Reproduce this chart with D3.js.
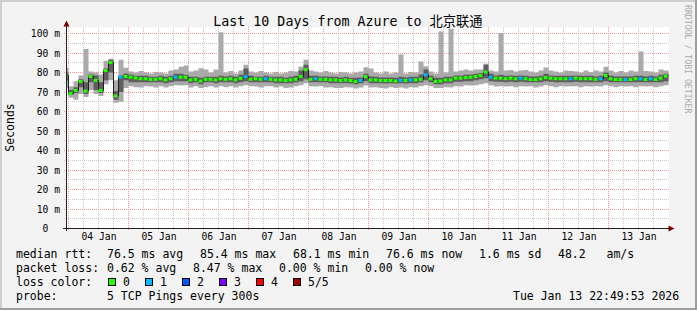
<!DOCTYPE html>
<meta charset="utf-8">
<script src="https://d3js.org/d3.v7.min.js"></script>
<style>
  body { margin: 0; background: #f3f3f3; }
  svg text { font-family: "DejaVu Sans Mono", "Noto Sans CJK SC", monospace; }
</style>
<div id="chart"></div>
<script>

// loss colour classes (number of lost pings out of 5)
var lossLabels = ["0", "1", "2", "3", "4", "5/5"];
var lossColors = ["#26ff00", "#00b8ff", "#0059ff", "#7e00ff", "#ff0000", "#a10000"];

// tick labels
var dayLabels = ["04 Jan", "05 Jan", "06 Jan", "07 Jan", "08 Jan", "09 Jan", "10 Jan", "11 Jan", "12 Jan", "13 Jan"];
var yTicks = [0, 10, 20, 30, 40, 50, 60, 70, 80, 90, 100];

// 2 hour steps, first step starts Jan 3 22:00 (values in ms)
var median = [78.5, 69.2, 70.8, 75.4, 70.5, 78, 76, 70.8, 81, 85.1, 68, 77.6, 78,
  77.6, 77.2, 76.8, 76.8, 76.5, 76.5, 76.8, 76.2, 76.8, 77.6, 77.6, 77.6,
  76.2, 76.5, 75.6, 76.5, 76.5, 76.2, 76.8, 76.5, 76.8, 76.2, 77, 77.9,
  76.5, 76.8, 76.5, 76.8, 76.5, 76.2, 76.2, 75.9, 76.2, 76.5, 78, 81.5,
  76.5, 76.8, 76.5, 76.5, 76.2, 76.2, 75.9, 76.2, 75.9, 75.4, 75.9, 77.9,
  76.2, 76.2, 75.9, 75.9, 75.9, 75.6, 76, 75.9, 76.2, 76.2, 76.5, 78.8,
  76.8, 75.4, 75.6, 76.2, 76.2, 77.1, 77.1, 77.4, 77.6, 77.9, 78.5, 80.2,
  77.6, 77.1, 77.1, 76.8, 77.1, 76.8, 77.1, 76.8, 76.4, 76.4, 76.8, 77.4,
  77.1, 76.8, 76.8, 76.8, 76.8, 77.1, 76.8, 76.8, 76.8, 76.5, 76.8, 78.5,
  76.8, 76.4, 76.4, 76.4, 76.4, 76.8, 76.8, 76.4, 76.8, 76.4, 77.1, 78.2];

var pingMin = [72, 67, 66, 69, 67.5, 71, 69, 68, 74, 76, 64.5, 65, 72,
  73, 72.5, 72.3, 73, 72.8, 72.3, 73, 72.3, 73, 73.5, 73.3, 73.5,
  72.3, 73, 72, 72.5, 73, 72.3, 73, 72.5, 73, 72.3, 73, 73.5,
  73, 72.8, 72.3, 73, 73, 72.3, 72.8, 72, 72.3, 73, 73.5, 74.5,
  73, 72.8, 73, 72.3, 72.5, 72, 72, 72.5, 72.3, 71.8, 72.3, 73.3,
  72.3, 72.5, 72, 71.8, 72.5, 72, 72.3, 71.8, 72.5, 72.3, 73, 73.5,
  73, 72, 72, 72.5, 72.3, 73, 72.8, 73.5, 73.3, 73.5, 74, 74.5,
  73.5, 72.8, 73, 72.8, 73, 72.5, 73, 72.8, 73, 72.3, 72.8, 73.5,
  73, 72.5, 73, 72.8, 73, 73, 72.5, 73, 72.8, 73, 72.8, 73.5,
  73, 72.5, 73, 72.8, 73, 72.5, 73, 72.8, 73, 72.5, 73, 73.5];

var pingLow = [76, 68.5, 69.5, 72.5, 69, 75, 71, 69.5, 76, 80, 66, 70, 76,
  75, 75, 75, 75, 75, 75, 75, 74.5, 75, 75.5, 75.5, 75.5,
  74.5, 75, 74, 75, 75, 74.5, 75, 75, 75, 74.5, 75, 75.5,
  75, 75, 75, 75, 75, 74.5, 74.5, 74.5, 74.5, 75, 75.5, 76.5,
  75, 75, 75, 75, 74.5, 74.5, 74.5, 74.5, 74.3, 74, 74.5, 75.5,
  74.5, 74.5, 74.5, 74.3, 74.5, 74.3, 74.5, 74.3, 74.5, 74.5, 75, 76,
  75, 74, 74, 74.5, 74.5, 75.3, 75.3, 75.5, 75.5, 76, 76.5, 77,
  75.5, 75.3, 75.3, 75, 75.3, 75, 75.3, 75, 75, 75, 75, 75.5,
  75.3, 75, 75, 75, 75, 75.3, 75, 75, 75, 75, 75, 75.5,
  75, 75, 75, 75, 75, 75, 75, 75, 75, 75, 75, 75.5];

var pingHigh = [80, 71, 72.5, 76.5, 75, 79, 78.5, 75, 82, 86.5, 70.5, 78.5, 79.5,
  78.8, 78.3, 78.3, 78.3, 77.8, 77.8, 78.3, 77.8, 78.3, 79.3, 79.3, 78.8,
  77.8, 77.8, 77.3, 77.8, 77.8, 77.8, 78.3, 78, 78.3, 77.8, 78.8, 82,
  78.3, 78, 77.8, 78.3, 77.8, 77.8, 77.8, 77.3, 77.8, 78.3, 81, 84,
  78.3, 78.3, 78, 78, 77.8, 77.8, 77.5, 77.8, 77.3, 77.3, 77.5, 79.3,
  78, 77.8, 77.5, 77.5, 77.5, 77.3, 77.8, 77.5, 77.8, 77.8, 79, 81.5,
  78.3, 77.3, 77.3, 77.8, 77.8, 78.5, 78.5, 78.8, 79, 79.3, 79.8, 84,
  79.3, 78.5, 78.8, 78.3, 78.5, 78.3, 78.5, 78.3, 78, 78, 78.3, 79.3,
  78.5, 78.3, 78.3, 78.3, 78.3, 78.5, 78.3, 78.3, 78.3, 78, 78.3, 80,
  78.3, 78, 78, 78, 78, 78.3, 78.3, 78, 78.3, 78, 78.8, 79.3];

var pingMax = [82.5, 73, 75.5, 78.5, 92, 80.5, 80, 79, 86, 87, 76, 86.6, 82.5,
  80.5, 80, 80.8, 80, 79.5, 80.3, 80, 79.5, 81, 81.5, 83, 83.6,
  80.5, 81, 82.2, 81.5, 80, 81.5, 100.7, 80, 80.8, 79.5, 81, 84,
  80.5, 80, 80.8, 80, 79.5, 80.3, 79.5, 80, 80.8, 80.5, 83, 86.5,
  81, 80.5, 80, 80.8, 80, 79.5, 80.3, 80, 79.5, 80, 80.5, 82.7,
  82, 80, 79.5, 80.5, 79.5, 80, 89.2, 79.5, 80.3, 80, 85.6, 83.2,
  80.5, 79.5, 101, 80, 102.5, 80.5, 81, 81.5, 81, 81.5, 81.5, 84.5,
  81, 80.5, 100.3, 81, 81.3, 80.5, 81, 81.3, 80.5, 80, 81, 82.6,
  81, 80.5, 80, 81, 80.8, 80.5, 80, 81, 80.3, 81, 80.5, 83,
  81, 80, 80.8, 80, 81, 80.5, 90.8, 80.8, 80.5, 80, 81.5, 81];

var lostPings = [0, 0, 0, 0, 0, 0, 0, 0, 0, 0, 0, 1, 0,
  0, 0, 0, 0, 0, 0, 0, 0, 0, 1, 0, 0,
  0, 0, 0, 0, 0, 0, 0, 0, 0, 0, 0, 1,
  0, 0, 0, 1, 0, 0, 0, 0, 0, 0, 0, 0,
  0, 1, 0, 0, 0, 0, 0, 0, 0, 0, 1, 0,
  0, 0, 0, 0, 0, 0, 1, 0, 1, 0, 0, 1,
  0, 0, 0, 0, 0, 0, 0, 0, 0, 0, 0, 0,
  1, 0, 0, 0, 0, 0, 1, 0, 0, 0, 0, 0,
  0, 0, 0, 0, 1, 0, 0, 0, 0, 0, 1, 0,
  0, 0, 0, 1, 0, 0, 1, 0, 1, 0, 0, 0];

// legend texts
var rttStats = ["76.5 ms avg", "85.4 ms max", "68.1 ms min", "76.6 ms now", "1.6 ms sd", "48.2   am/s"];
var lossStats = ["0.62 % avg", "8.47 % max", "0.00 % min", "0.00 % now"];
var probeText = "5 TCP Pings every 300s";
var stampText = "Tue Jan 13 22:49:53 2026";
var titleText = "Last 10 Days from Azure to 北京联通";

var W = 697, H = 310;
var stepMs = 2 * 3600 * 1000;
var firstStep = new Date(2026, 0, 3, 22);

var svg = d3.select("#chart").append("svg")
    .attr("width", W)
    .attr("height", H);

// background and 3d frame
svg.append("rect").attr("width", W).attr("height", H).attr("fill", "#f3f3f3");
svg.append("path").attr("d", "M0,0H697V2H2V310H0Z").attr("fill", "#cfcfcf");
svg.append("path").attr("d", "M697,0V310H0V308H695V0Z").attr("fill", "#9e9e9e");

// scales
var x = d3.scaleTime()
    .domain([new Date(2026, 0, 4), new Date(2026, 0, 14)])
    .range([68.5, 668.5]);
var y = d3.scaleLinear()
    .domain([0, 100])
    .range([228.5, 33.5]);

// canvas
svg.append("rect")
    .attr("x", 67).attr("y", 27)
    .attr("width", 602).attr("height", 201)
    .attr("fill", "#ffffff");

function py(v) { return Math.round(y(v) - 0.5) + 0.5; }
function px(t) { return Math.round(x(t) - 0.5) + 0.5; }

// grid
var grid = svg.append("g");
var minorH = d3.range(5, 101, 10);
grid.selectAll(".hmin").data(minorH).enter().append("line")
    .attr("x1", 64).attr("x2", 669)
    .attr("y1", py).attr("y2", py)
    .attr("stroke", "#c8c8c8").attr("stroke-dasharray", "1,1");
var hours = d3.timeHour.every(6).range(new Date(2026, 0, 4), new Date(2026, 0, 14))
    .filter(function(d) { return d.getHours() != 0; });
grid.selectAll(".vmin").data(hours).enter().append("line")
    .attr("y1", 27).attr("y2", 231)
    .attr("x1", px).attr("x2", px)
    .attr("stroke", "#c8c8c8").attr("stroke-dasharray", "1,1");
grid.selectAll(".hmaj").data(yTicks.slice(1)).enter().append("line")
    .attr("x1", 64).attr("x2", 669)
    .attr("y1", py).attr("y2", py)
    .attr("stroke", "#f59a9a").attr("stroke-dasharray", "1,1");
var days = d3.timeDay.range(new Date(2026, 0, 4), new Date(2026, 0, 14));
grid.selectAll(".vmaj").data(days).enter().append("line")
    .attr("y1", 27).attr("y2", 231)
    .attr("x1", px).attr("x2", px)
    .attr("stroke", "#f59a9a").attr("stroke-dasharray", "1,1");

// data table
var data = median.map(function(m, i) {
  return {
    t: new Date(+firstStep + i * stepMs),
    t1: new Date(+firstStep + (i + 1) * stepMs),
    median: m, min: pingMin[i], low: pingLow[i], high: pingHigh[i], max: pingMax[i],
    loss: lostPings[i]
  };
});
var last = data[data.length - 1];
var path = data.concat([Object.assign({}, last, {t: last.t1})]);

svg.append("clipPath").attr("id", "plotclip")
  .append("rect").attr("x", 67).attr("y", 27).attr("width", 602).attr("height", 201);

var plot = svg.append("g").attr("clip-path", "url(#plotclip)");

// smoke
plot.append("path")
    .datum(path)
    .attr("fill", "#aaaaaa")
    .attr("d", d3.area().curve(d3.curveStepAfter)
      .x(function(d) { return x(d.t); })
      .y0(function(d) { return y(d.min); })
      .y1(function(d) { return y(d.max); }));
plot.append("path")
    .datum(path)
    .attr("fill", "#5e5e5e")
    .attr("d", d3.area().curve(d3.curveStepAfter)
      .x(function(d) { return x(d.t); })
      .y0(function(d) { return y(d.low); })
      .y1(function(d) { return y(d.high); }));

// median line
plot.append("path")
    .datum(path)
    .attr("fill", "none")
    .attr("stroke", "#202020")
    .attr("stroke-width", 1)
    .attr("d", d3.line().curve(d3.curveStepAfter)
      .x(function(d) { return x(d.t); })
      .y(function(d) { return y(d.median); }));

// median marks coloured by loss
plot.selectAll(".med").data(data).enter().append("rect")
    .attr("x", function(d) { return x(d.t); })
    .attr("width", function(d) { return x(d.t1) - x(d.t) - 1; })
    .attr("y", function(d) { return y(d.median) - 1.5; })
    .attr("height", 3)
    .attr("fill", function(d) { return lossColors[d.loss]; });

// axes lines and arrows
svg.append("line").attr("x1", 66.5).attr("x2", 66.5).attr("y1", 231).attr("y2", 24)
    .attr("stroke", "#222");
svg.append("line").attr("x1", 63).attr("x2", 670).attr("y1", 228.5).attr("y2", 228.5)
    .attr("stroke", "#222");
svg.append("path").attr("d", "M63.5,26.5L69.5,26.5L66.5,20.5Z").attr("fill", "#7f0000");
svg.append("path").attr("d", "M668.5,225.5L668.5,231.5L674.5,228.5Z").attr("fill", "#7f0000");

// tick labels
var xAxis = svg.append("g")
    .attr("transform", "translate(0,228)")
    .call(d3.axisBottom(x)
      .tickValues(dayLabels.map(function(d, i) { return new Date(2026, 0, 4 + i, 12); }))
      .tickFormat(function(d, i) { return dayLabels[i]; })
      .tickSize(0).tickPadding(5));
xAxis.select(".domain").remove();
xAxis.selectAll("text").attr("font-size", "9.7px").attr("font-family", null).attr("fill", "#000");

var yAxis = svg.append("g")
    .attr("transform", "translate(67,0)")
    .call(d3.axisLeft(y)
      .tickValues(yTicks)
      .tickFormat(function(v) { return v == 0 ? "0  " : v + " m"; })
      .tickSize(0).tickPadding(7));
yAxis.select(".domain").remove();
yAxis.selectAll("text").attr("font-size", "9.7px").attr("font-family", null)
    .attr("fill", "#000").style("white-space", "pre");
d3.selectAll(".tick line").remove();

// title and axis label
svg.append("text")
    .attr("x", 348).attr("y", 26)
    .attr("text-anchor", "middle")
    .style("font-size", "13.3px")
    .text(titleText);

svg.append("text")
    .attr("transform", "translate(14,127.5) rotate(-90)")
    .attr("text-anchor", "middle")
    .style("font-size", "11.5px")
    .text("Seconds");

svg.append("text")
    .attr("transform", "translate(685,5) rotate(90)")
    .style("font-size", "8.2px")
    .attr("fill", "#aaaaaa")
    .text("RRDTOOL / TOBI OETIKER");

// legend
var leg = svg.append("g").style("font-size", "11.5px").attr("fill", "#000");
function legText(xp, yp, s) {
  leg.append("text").attr("x", xp).attr("y", yp).style("white-space", "pre").text(s);
}
legText(16, 258, "median rtt:");
[107, 200, 293, 386, 479, 558].forEach(function(xp, i) { legText(xp, 258, rttStats[i]); });
legText(16, 272, "packet loss:");
[107, 193, 279, 365].forEach(function(xp, i) { legText(xp, 272, lossStats[i]); });
legText(16, 286, "loss color:");
lossLabels.forEach(function(l, i) {
  var bx = 108 + i * 36.9;
  leg.append("rect")
    .attr("x", Math.round(bx) + 0.5).attr("y", 278.5)
    .attr("width", 7).attr("height", 7)
    .attr("fill", lossColors[i])
    .attr("stroke", "#000");
  legText(Math.round(bx) + 15, 286, l);
});
legText(16, 300, "probe:");
legText(107, 300, probeText);
legText(513, 300, stampText);

</script>
